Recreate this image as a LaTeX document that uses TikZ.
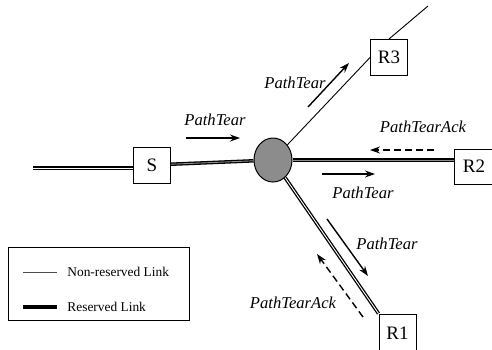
\documentclass[tikz,border=0pt]{standalone}
\usepackage{fontspec}
\setmainfont{Liberation Serif}
\usetikzlibrary{positioning, calc, arrows.meta, shapes.geometric}

\tikzset{
    router/.style={draw, line width=0.5pt, fill=white, minimum width=18.5pt, minimum height=18pt, inner sep=0pt, font=\fontsize{9.5}{10}\selectfont},
    reserved/.style={draw=black, line width=0.65pt, double=black!45, double distance=0.45pt},
    plain/.style={draw=black, line width=0.45pt},
    msg/.style={line width=0.7pt, -{Stealth[length=5pt, width=3.5pt]}},
    ack/.style={msg, dash pattern=on 3.5pt off 2pt},
    lbl/.style={font=\fontsize{8.3}{9}\selectfont\itshape, inner sep=0pt},
}

\begin{document}
\begin{tikzpicture}[x=0.5pt, y=-0.5pt]
    \useasboundingbox (0,0) rectangle (492,349);

    %ノードを書く
    \node[router] (S) at (152,165) {S};
    \node[router] (R3) at (389,57.5) {R3};
    \node[router, minimum width=20pt, minimum height=17.5pt] (R2) at (474,166.5) {R2};
    \node[router, minimum height=19pt] (R1) at (397.5,333) {R1};
    \node[ellipse, draw, line width=0.5pt, fill=black!45, minimum width=19pt, minimum height=22pt, inner sep=0pt] (hub) at (273,160) {};

    \coordinate (lend) at (33,168);
    \coordinate (r3end) at (428,6);

    %リンクを書く
    \draw[reserved, double=white, line width=0.55pt] (lend) -- (lend -| S.west);
    \draw[reserved] (S) -- (hub);
    \draw[reserved] (hub.east) -- (hub.east -| R2.west);
    \draw[reserved, double=white] (hub) -- (R1.north west);
    \draw[plain] (hub) -- (R3.west);
    \draw[plain] (R3.north) -- (r3end);

    %メッセージを書く
    \draw[msg] (186,138) -- (240,138);
    \node[lbl] (m1) at (215,120) {PathTear};

    \draw[msg] (308,107) -- (349,63);
    \node[lbl] (m2) at (295,83) {PathTear};

    \draw[ack] (434,150) -- (370,150);
    \node[lbl] (m3) at (423,127) {PathTearAck};

    \draw[msg] (322,174) -- (375,174);
    \node[lbl] (m4) at (363,193) {PathTear};

    \draw[msg] (327,219) -- (368,276);
    \node[lbl] (m5) at (387,244) {PathTear};

    \draw[ack] (363,317) -- (317,254);
    \node[lbl] (m6) at (293,303) {PathTearAck};

    %凡例を書く
    \draw[line width=0.5pt] (8,247) rectangle (189,320);
    \coordinate (l1) at (23,272);
    \coordinate (l2) at (23,307);
    \draw[plain, draw=black!70] (l1) -- ++(34,0);
    \draw[reserved, double=black] (l2) -- ++(34,0);
    \node[anchor=west, inner sep=0pt, font=\fontsize{6.7}{8}\selectfont] (t1) at (67,272) {Non-reserved Link};
    \node[anchor=west, inner sep=0pt, font=\fontsize{6.7}{8}\selectfont] (t2) at (67,307) {Reserved Link};
\end{tikzpicture}
\end{document}
